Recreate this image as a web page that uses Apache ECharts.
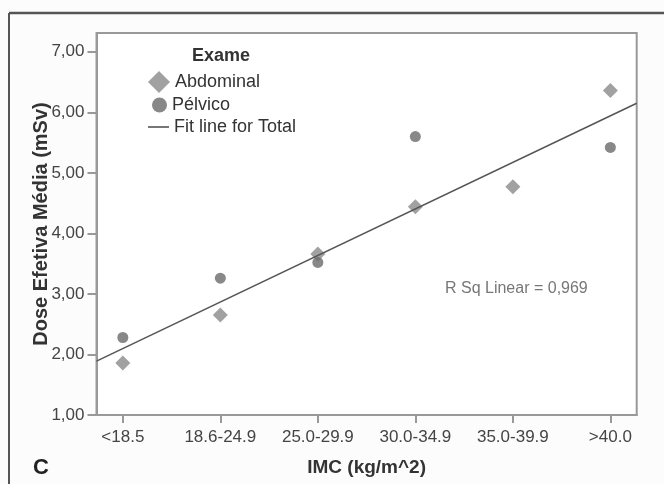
<!DOCTYPE html>
<html>
<head>
<meta charset="utf-8">
<script src="https://cdn.jsdelivr.net/npm/echarts@6/dist/echarts.min.js"></script>
<style>html,body{margin:0;padding:0;background:#fcfcfc;}#chart{width:664px;height:484px;}</style>
</head>
<body>
<div id="chart"></div>
<script>
var categories = ['<18.5', '18.6-24.9', '25.0-29.9', '30.0-34.9', '35.0-39.9', '>40.0'];
var abdominal = [1.86, 2.65, 3.66, 4.44, 4.77, 6.36];
var pelvico = [2.28, 3.26, 3.52, 5.60, null, 5.42];
var fitX = [-0.27, 5.27];
var fitY = [1.89, 6.15];
var yTicks = [1, 2, 3, 4, 5, 6, 7];
var xTicks = [0, 1, 2, 3, 4, 5];

var FONT = "'Liberation Sans', Arial, sans-serif";
function pairs(vals) {
  var out = [];
  vals.forEach(function (v, i) { if (v !== null) out.push([i, v]); });
  return out;
}
var fitData = fitX.map(function (x, i) { return [x, fitY[i]]; });

var chart = echarts.init(document.getElementById('chart'), null, {renderer: 'canvas'});
chart.setOption({
  backgroundColor: '#fcfcfc',
  animation: false,
  title: {
    text: 'Exame', left: 192, top: 47, padding: 0,
    textStyle: {fontFamily: FONT, fontSize: 18, fontWeight: 'bold', color: '#333'}
  },
  legend: [
    {data: [{name: 'Abdominal', icon: 'diamond'}], left: 148, top: 71, padding: 0, itemWidth: 22, itemHeight: 22,
     textStyle: {fontFamily: FONT, fontSize: 18, color: '#333'}, selectedMode: false},
    {data: [{name: 'Pélvico', icon: 'circle'}], left: 152, top: 96, padding: 0, itemWidth: 15, itemHeight: 15,
     textStyle: {fontFamily: FONT, fontSize: 18, color: '#333'}, selectedMode: false},
    {data: [{name: 'Fit line for Total', icon: 'rect', itemStyle: {color: '#555'}}], left: 148, top: 118, padding: 0,
     itemWidth: 21, itemHeight: 1.6,
     textStyle: {fontFamily: FONT, fontSize: 18, color: '#333'}, selectedMode: false}
  ],
  grid: {
    left: 96.5, top: 33, right: 27.3, bottom: 69,
    show: true, borderColor: '#999', borderWidth: 2, backgroundColor: '#fff'
  },
  xAxis: {
    type: 'value', min: -0.27, max: 5.27,
    name: 'IMC (kg/m^2)', nameLocation: 'middle', nameGap: 43, nameMoveOverlap: false,
    nameTextStyle: {fontFamily: FONT, fontSize: 19, fontWeight: 'bold', color: '#333'},
    axisLine: {show: true, onZero: false, lineStyle: {color: '#999', width: 2}},
    axisTick: {show: true, length: 8, customValues: xTicks, lineStyle: {color: '#999', width: 2}},
    axisLabel: {
      customValues: xTicks, margin: 14,
      fontFamily: FONT, fontSize: 17, color: '#444',
      formatter: function (v) { return categories[Math.round(v)]; }
    },
    splitLine: {show: false}
  },
  yAxis: {
    type: 'value', min: 1, max: 7.31,
    name: 'Dose Efetiva Média (mSv)', nameLocation: 'middle', nameGap: 45, nameMoveOverlap: false,
    nameTextStyle: {fontFamily: FONT, fontSize: 20, fontWeight: 'bold', color: '#333'},
    axisLine: {show: true, onZero: false, lineStyle: {color: '#999', width: 2}},
    axisTick: {show: true, length: 9, customValues: yTicks, lineStyle: {color: '#999', width: 2}},
    axisLabel: {
      customValues: yTicks, margin: 12,
      fontFamily: FONT, fontSize: 17, color: '#444',
      formatter: function (v) { return v.toFixed(2).replace('.', ','); }
    },
    splitLine: {show: false}
  },
  series: [
    {name: 'Abdominal', type: 'scatter', symbol: 'diamond', symbolSize: 15,
     itemStyle: {color: '#8a8a8a'}, data: pairs(abdominal), z: 2},
    {name: 'Pélvico', type: 'scatter', symbol: 'circle', symbolSize: 11,
     itemStyle: {color: '#6a6a6a'}, data: pairs(pelvico), z: 2},
    {name: 'Fit line for Total', type: 'line', symbol: 'none', showSymbol: false,
     lineStyle: {color: '#555', width: 1.5}, itemStyle: {color: '#555'},
     data: fitData, z: 3}
  ],
  graphic: [
    {type: 'line', shape: {x1: 9, y1: 13, x2: 664, y2: 13}, style: {stroke: '#555', lineWidth: 2.5}},
    {type: 'line', shape: {x1: 9, y1: 13, x2: 9, y2: 484}, style: {stroke: '#555', lineWidth: 2}},
    {type: 'text', left: 445, top: 281,
     style: {text: 'R Sq Linear = 0,969', fontFamily: FONT, fontSize: 16, fill: '#777'}},
    {type: 'text', left: 33, top: 457,
     style: {text: 'C', fontFamily: FONT, fontSize: 22, fontWeight: 'bold', fill: '#222'}}
  ]
});
</script>
</body>
</html>
